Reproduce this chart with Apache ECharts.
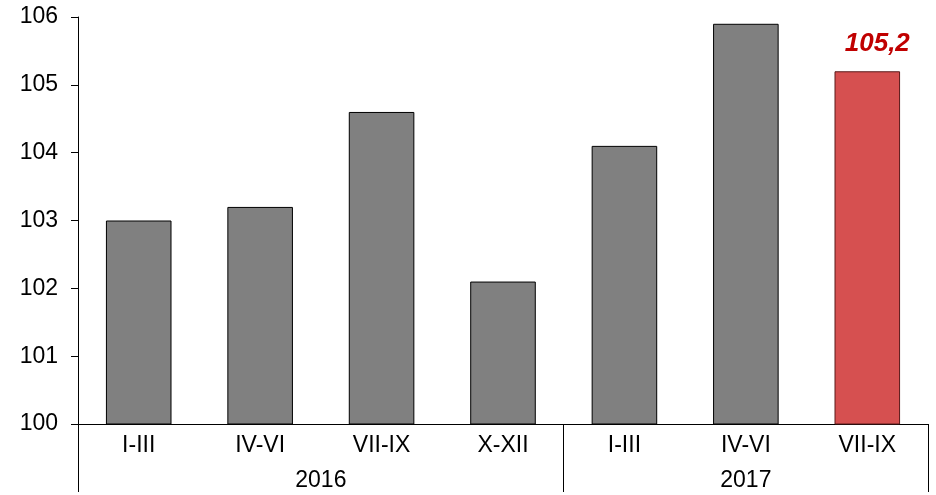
<!DOCTYPE html>
<html><head><meta charset="utf-8">
<script src="https://cdn.jsdelivr.net/npm/echarts@6/dist/echarts.min.js"></script>
<style>html,body{margin:0;padding:0;background:#fff}#c{width:936px;height:495px}</style>
</head><body><div id="c"></div>
<script>
const quarters = ['I-III','IV-VI','VII-IX','X-XII','I-III','IV-VI','VII-IX'];
const values = [103.0, 103.2, 104.6, 102.1, 104.1, 105.9, 105.2];
const years = ['2016', '2017'];
const yearSpans = [4, 3];
const highlightIndex = 6;

// helper axis for year grouping: 2 slots per quarter, boundary points
const yearSlots = [];
const yearLabelIdx = {};
const yearTickIdx = {0: true};
let pos = 0;
years.forEach((y, i) => {
  yearLabelIdx[pos + yearSpans[i]] = y;
  pos += yearSpans[i] * 2;
  yearTickIdx[pos] = true;
});
for (let i = 0; i <= quarters.length * 2; i++) yearSlots.push(yearLabelIdx[i] || '');

const font = 'Liberation Sans, Arial, sans-serif';
const chart = echarts.init(document.getElementById('c'));
chart.setOption({
  animation: false,
  grid: {left: 78, right: 8, top: 17, bottom: 71, containLabel: false},
  xAxis: [{
    type: 'category', data: quarters, position: 'bottom',
    axisLine: {lineStyle: {color: '#000', width: 1}},
    axisTick: {length: 35, interval: 0, lineStyle: {color: '#000'}},
    axisLabel: {color: '#000', fontSize: 23, fontFamily: font, margin: 10, interval: 0}
  }, {
    type: 'category', data: yearSlots, position: 'bottom', boundaryGap: false,
    axisLine: {show: false},
    axisTick: {show: true, length: 68, interval: (idx) => !!yearTickIdx[idx], lineStyle: {color: '#000'}},
    axisLabel: {color: '#000', fontSize: 23, fontFamily: font, margin: 45, interval: (idx, v) => v !== ''}
  }],
  yAxis: {
    type: 'value', min: 100, max: 106, interval: 1,
    axisLine: {show: true, lineStyle: {color: '#000'}},
    axisTick: {show: true, length: 7, lineStyle: {color: '#000'}},
    splitLine: {show: false},
    axisLabel: {color: '#000', fontSize: 23, fontFamily: font, margin: 20}
  },
  series: [{
    type: 'bar', xAxisIndex: 0, barWidth: '54%',
    data: values.map((v, i) => i === highlightIndex ? {
      value: v,
      itemStyle: {color: '#d65050', borderColor: '#5a1a1a', borderWidth: 1},
      label: {show: true, position: 'top', distance: 14, offset: [10, 0], color: '#c00000', fontSize: 26,
        fontWeight: 'bold', fontStyle: 'italic', fontFamily: font,
        formatter: (p) => p.value.toFixed(1).replace('.', ',')}
    } : v),
    itemStyle: {color: '#808080', borderColor: '#000', borderWidth: 1}
  }]
});
</script></body></html>
